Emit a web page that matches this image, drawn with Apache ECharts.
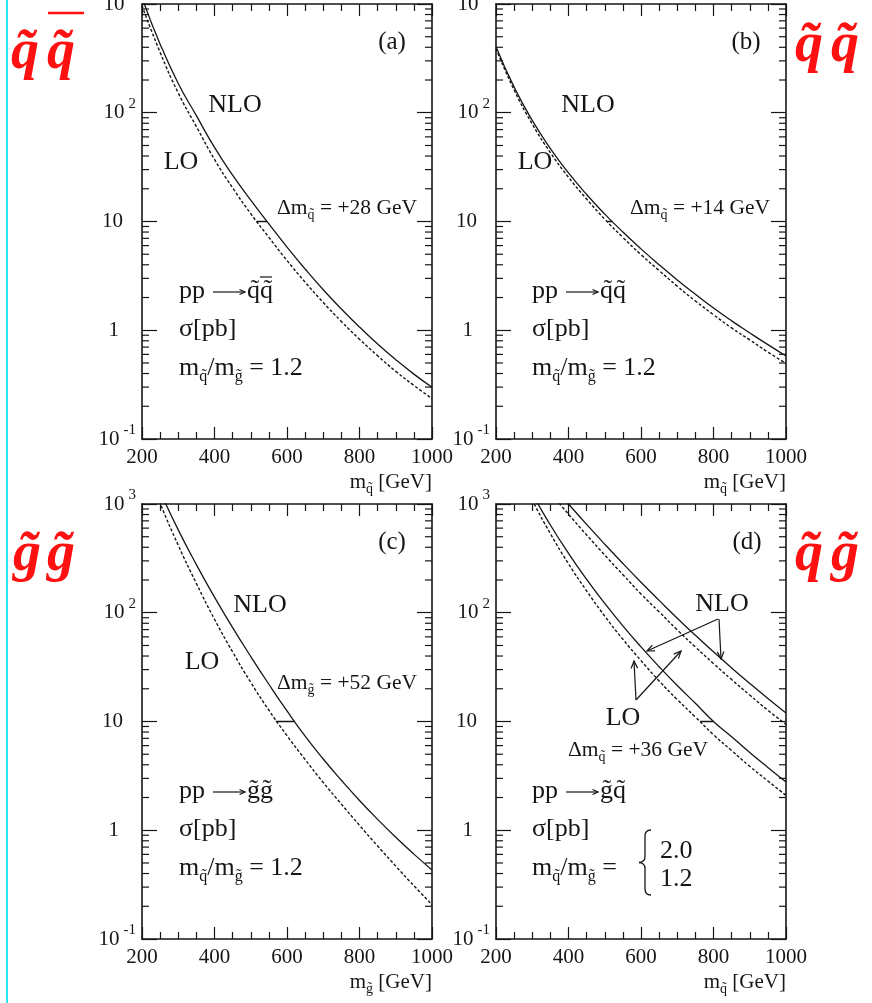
<!DOCTYPE html>
<html>
<head>
<meta charset="utf-8">
<title>Squark and gluino pair production at the LHC: LO vs NLO</title>
<script src="https://cdn.jsdelivr.net/npm/echarts@6/dist/echarts.min.js"></script>
<style>
  html, body { margin: 0; padding: 0; background: #ffffff; }
  #chart { width: 872px; height: 1003px; }
</style>
</head>
<body>
<div id="chart"></div>
<script>
// Sparticle mass grid (GeV)
const massGeV = [200, 250, 300, 350, 400, 450, 500, 550, 600, 650, 700, 750, 800, 850, 900, 950, 1000];

// (a) pp -> squark + antisquark, sigma [pb]
const sqAntisqNLO = [1140, 427, 186, 94, 48, 26.7, 15.7, 9.51, 5.82, 3.66, 2.36, 1.57, 1.07, 0.746, 0.536, 0.395, 0.299];
const sqAntisqLO  = [966, 359, 152, 74.6, 37.2, 20.4, 11.8, 7.15, 4.38, 2.77, 1.80, 1.205, 0.827, 0.583, 0.419, 0.311, 0.235];

// (b) pp -> squark + squark
const sqSqNLO = [405, 172, 85, 46.9, 28.0, 17.7, 11.7, 8.0, 5.6, 4.0, 2.9, 2.14, 1.6, 1.22, 0.945, 0.737, 0.58];
const sqSqLO  = [389, 162, 78.7, 43.0, 25.5, 16.1, 10.5, 7.14, 4.96, 3.54, 2.54, 1.86, 1.39, 1.05, 0.815, 0.63, 0.496];

// (c) pp -> gluino + gluino
const glGlNLO = [3100, 1300, 578, 277, 139, 72.9, 39.6, 22.0, 12.5, 7.33, 4.52, 2.88, 1.88, 1.26, 0.861, 0.603, 0.432];
const glGlLO  = [2570, 1010, 417, 186, 87.1, 43.6, 22.9, 12.7, 7.41, 4.47, 2.75, 1.74, 1.11, 0.716, 0.468, 0.309, 0.207];

// (d) pp -> gluino + squark, mass ratio 2.0 and 1.2
const sqGlNLO20 = [6300, 3900, 2450, 1550, 1000, 649, 427, 284, 191, 130, 89.1, 62.0, 43.7, 31.1, 22.4, 16.3, 12.0];
const sqGlLO20  = [5250, 3250, 2020, 1270, 806, 519, 339, 224, 149, 102, 69.6, 48.4, 34.1, 24.3, 17.5, 12.7, 9.4];
const sqGlNLO12 = [6200, 2640, 1247, 641, 352, 203, 122, 75.8, 48.6, 31.9, 21.4, 14.7, 10.0, 7.24, 5.19, 3.78, 2.78];
const sqGlLO12  = [5640, 2360, 1084, 534, 282, 159, 93.1, 57.0, 36.3, 23.6, 15.9, 11.0, 7.56, 5.40, 3.87, 2.84, 2.09];

// Mass shift LO -> NLO read at sigma = 10 pb: [LO mass, NLO mass]
const shiftLevel = 10;
const shiftA = [517, 545];   // +28 GeV
const shiftB = [507, 521];   // +14 GeV
const shiftC = [569, 621];   // +52 GeV
const shiftD = [764, 800];   // +36 GeV

// Axis ranges
const massRange = [200, 1000];
const massStep = 200;
const sigmaRange = [0.1, 1000];

const FONT = '"Liberation Serif", "Times New Roman", "DejaVu Serif", serif';
const INK = '#161616';
const RED = '#ff1111';

const chart = echarts.init(document.getElementById('chart'), null, { renderer: 'canvas' });

const PW = 290, PH = 435;
const panels = [
  { left: 142, top: 4,   sub: 'q' },
  { left: 496, top: 4,   sub: 'q' },
  { left: 142, top: 504, sub: 'g' },
  { left: 496, top: 504, sub: 'q' }
];

// log-scale minor tick positions (2..9 in every decade)
const minorDecadeTicks = [];
for (let e = -1; e < 3; e++) {
  for (let k = 2; k <= 9; k++) minorDecadeTicks.push(k * Math.pow(10, e));
}

function decadeLabel(v) {
  const e = Math.round(Math.log10(v));
  if (e === 0) return '{b|1}{p1| }';
  if (e === 1) return '{b|10}{p2| }';
  return '{b|10}{sup|' + e + '}';
}

const grids = panels.map(p => ({ left: p.left, top: p.top, width: PW, height: PH, containLabel: false, outerBoundsMode: 'none' }));

const axisLineStyle = { show: true, onZero: false, lineStyle: { color: INK, width: 1.6 } };
const xAxes = [], yAxes = [];
panels.forEach((p, i) => {
  const xCommon = {
    type: 'value', gridIndex: i, min: massRange[0], max: massRange[1], interval: massStep,
    axisLine: axisLineStyle,
    axisTick: { show: true, inside: true, length: 12, lineStyle: { color: INK, width: 1.2 } },
    minorTick: { show: true, splitNumber: 4, length: 7, lineStyle: { color: INK, width: 1.2 } },
    splitLine: { show: false }, minorSplitLine: { show: false }
  };
  xAxes.push(Object.assign({}, xCommon, {
    position: 'bottom',
    axisLabel: { show: true, margin: 8, fontFamily: FONT, fontSize: 21, color: INK, formatter: v => String(v) },
    name: '{m|m}{s|' + p.sub + '\u0303}{m| [GeV]}',
    nameLocation: 'end', nameGap: 0, nameMoveOverlap: false,
    nameTextStyle: {
      fontFamily: FONT, fontSize: 21, color: INK, align: 'right', verticalAlign: 'top',
      padding: [29, 0, 0, 0],
      rich: {
        m: { fontFamily: FONT, fontSize: 21, color: INK },
        s: { fontFamily: FONT, fontSize: 14, color: INK, padding: [14, 0, 0, 0] }
      }
    }
  }));
  xAxes.push(Object.assign({}, xCommon, { position: 'top', axisLabel: { show: false } }));

  const yCommon = {
    type: 'log', logBase: 10, gridIndex: i, min: sigmaRange[0], max: sigmaRange[1], splitNumber: 4,
    axisLine: axisLineStyle,
    axisTick: { show: true, inside: true, length: 15, lineStyle: { color: INK, width: 1.2 } },
    splitLine: { show: false }
  };
  yAxes.push(Object.assign({}, yCommon, {
    position: 'left',
    axisLabel: {
      show: true, margin: 6, fontFamily: FONT, fontSize: 21, color: INK, formatter: decadeLabel,
      rich: {
        b: { fontFamily: FONT, fontSize: 21, color: INK },
        sup: { fontFamily: FONT, fontSize: 15, color: INK, padding: [0, 0, 18, 4] },
        p1: { width: 17 },
        p2: { width: 13 }
      }
    }
  }));
  yAxes.push(Object.assign({}, yCommon, { position: 'right', axisLabel: { show: false } }));
});

function curve(i, values, dashed) {
  return {
    type: 'line', xAxisIndex: 2 * i, yAxisIndex: 2 * i,
    data: massGeV.map((m, k) => [m, values[k]]),
    symbol: 'none', showSymbol: false, smooth: true, clip: true, silent: true,
    lineStyle: { color: INK, width: dashed ? 1.4 : 1.3, type: dashed ? [3, 2] : 'solid' }
  };
}

function shiftMark(i, pair) {
  return {
    type: 'line', xAxisIndex: 2 * i, yAxisIndex: 2 * i,
    data: [[pair[0], shiftLevel], [pair[1], shiftLevel]],
    symbol: 'none', silent: true, lineStyle: { color: INK, width: 1.3 }
  };
}

function minorTicks(i) {
  return {
    type: 'custom', xAxisIndex: 2 * i, yAxisIndex: 2 * i, silent: true, clip: false,
    data: minorDecadeTicks.map(v => [600, v]),
    renderItem: function (params, api) {
      const v = api.value(1);
      const l = api.coord([massRange[0], v]);
      const r = api.coord([massRange[1], v]);
      const st = { stroke: INK, lineWidth: 1.2 };
      return {
        type: 'group', children: [
          { type: 'line', shape: { x1: l[0], y1: l[1], x2: l[0] + 7, y2: l[1] }, style: st },
          { type: 'line', shape: { x1: r[0], y1: r[1], x2: r[0] - 7, y2: r[1] }, style: st }
        ]
      };
    }
  };
}

const series = [
  curve(0, sqAntisqNLO, false), curve(0, sqAntisqLO, true), shiftMark(0, shiftA), minorTicks(0),
  curve(1, sqSqNLO, false), curve(1, sqSqLO, true), shiftMark(1, shiftB), minorTicks(1),
  curve(2, glGlNLO, false), curve(2, glGlLO, true), shiftMark(2, shiftC), minorTicks(2),
  curve(3, sqGlNLO20, false), curve(3, sqGlLO20, true),
  curve(3, sqGlNLO12, false), curve(3, sqGlLO12, true), shiftMark(3, shiftD), minorTicks(3)
];

// ---- annotations ----
const TIL = '\u0303';
const T = 26; // annotation text size
const richSub = {
  t: { fontFamily: FONT, fontSize: T, fill: INK },
  s: { fontFamily: FONT, fontSize: 16, fill: INK, padding: [17, 0, 0, 0] }
};
const richDelta = {
  t: { fontFamily: FONT, fontSize: 21.5, fill: INK },
  s: { fontFamily: FONT, fontSize: 14, fill: INK, padding: [14, 0, 0, 0] }
};

function text(x, y, str, size, align, rich) {
  const a = align || 'left';
  const style = {
    text: str, fill: INK, fontFamily: FONT, fontSize: size,
    align: a, verticalAlign: 'middle', textAlign: a, textVerticalAlign: 'middle'
  };
  if (rich) style.rich = rich;
  return { type: 'text', x: x, y: y, silent: true, style: style };
}

function arrow(x1, y1, x2, y2, head) {
  const ang = Math.atan2(y2 - y1, x2 - x1), h = head || 8, spread = 0.42;
  const a1 = [x2 - h * Math.cos(ang - spread), y2 - h * Math.sin(ang - spread)];
  const a2 = [x2 - h * Math.cos(ang + spread), y2 - h * Math.sin(ang + spread)];
  return [
    { type: 'line', silent: true, shape: { x1: x1, y1: y1, x2: x2, y2: y2 }, style: { stroke: INK, lineWidth: 1.2 } },
    { type: 'polyline', silent: true, shape: { points: [a1, [x2, y2], a2] }, style: { stroke: INK, lineWidth: 1.2, fill: null } }
  ];
}

function seg(x1, y1, x2, y2, color, w) {
  return { type: 'line', silent: true, shape: { x1: x1, y1: y1, x2: x2, y2: y2 }, style: { stroke: color || INK, lineWidth: w || 1.3 } };
}

// "pp -> X Y" reaction line; optional bar over the second particle
function reaction(x, y, particles, barSecond) {
  const els = [text(x, y, 'pp', T, 'left')]
    .concat(arrow(x + 34, y + 1, x + 66, y + 1, 6))
    .concat([text(x + 68, y, particles, T, 'left')]);
  if (barSecond) els.push(seg(x + 81, y - 14, x + 93, y - 14, INK, 1.2));
  return els;
}

function redGlyph(x, y, ch) {
  return {
    type: 'text', x: x, y: y, silent: true,
    style: {
      text: ch, fill: RED, fontFamily: '"Liberation Serif", serif', fontWeight: 'bold', fontStyle: 'italic',
      fontSize: 56, align: 'left', verticalAlign: 'middle', textAlign: 'left', textVerticalAlign: 'middle'
    }
  };
}

function bez(x1, y1, c1x, c1y, c2x, c2y, x2, y2) {
  return { type: 'bezierCurve', silent: true,
    shape: { x1: x1, y1: y1, cpx1: c1x, cpy1: c1y, cpx2: c2x, cpy2: c2y, x2: x2, y2: y2 },
    style: { stroke: INK, lineWidth: 1.3, fill: null } };
}

const graphics = [
  // page frame accent
  seg(7, 0, 7, 1003, '#2ee4f2', 2),

  // panel (a)
  text(392, 42, '(a)', 25, 'center'),
  text(235, 105, 'NLO', T, 'center'),
  text(181, 162, 'LO', T, 'center'),
  text(277, 208, '{t|\u0394m}{s|q' + TIL + '}{t| = +28 GeV}', 21.5, 'left', richDelta),
  text(179, 329, '\u03c3[pb]', T, 'left'),
  text(179, 368, '{t|m}{s|q' + TIL + '}{t|/m}{s|g' + TIL + '}{t| = 1.2}', T, 'left', richSub),

  // panel (b)
  text(746, 42, '(b)', 25, 'center'),
  text(588, 105, 'NLO', T, 'center'),
  text(535, 162, 'LO', T, 'center'),
  text(630, 208, '{t|\u0394m}{s|q' + TIL + '}{t| = +14 GeV}', 21.5, 'left', richDelta),
  text(532, 329, '\u03c3[pb]', T, 'left'),
  text(532, 368, '{t|m}{s|q' + TIL + '}{t|/m}{s|g' + TIL + '}{t| = 1.2}', T, 'left', richSub),

  // panel (c)
  text(392, 542, '(c)', 25, 'center'),
  text(260, 605, 'NLO', T, 'center'),
  text(202, 662, 'LO', T, 'center'),
  text(277, 683, '{t|\u0394m}{s|g' + TIL + '}{t| = +52 GeV}', 21.5, 'left', richDelta),
  text(179, 829, '\u03c3[pb]', T, 'left'),
  text(179, 868, '{t|m}{s|q' + TIL + '}{t|/m}{s|g' + TIL + '}{t| = 1.2}', T, 'left', richSub),

  // panel (d)
  text(747, 542, '(d)', 25, 'center'),
  text(722, 604, 'NLO', T, 'center'),
  text(623, 718, 'LO', T, 'center'),
  text(568, 750, '{t|\u0394m}{s|q' + TIL + '}{t| = +36 GeV}', 21.5, 'left', richDelta),
  text(532, 829, '\u03c3[pb]', T, 'left'),
  text(532, 868, '{t|m}{s|q' + TIL + '}{t|/m}{s|g' + TIL + '}{t| =}', T, 'left', richSub),
  text(660, 851, '2.0', T, 'left'),
  text(660, 879, '1.2', T, 'left'),
  // curly brace
  bez(651, 830, 647, 830, 645, 832, 645, 836),
  seg(645, 836, 645, 857),
  bez(645, 857, 645, 860.5, 642, 862.5, 639, 862.5),
  bez(639, 862.5, 642, 862.5, 645, 864.5, 645, 868),
  seg(645, 868, 645, 889),
  bez(645, 889, 645, 893, 647, 895, 651, 895),

  // process labels in red
  redGlyph(11, 54, 'q' + TIL), redGlyph(47, 54, 'q' + TIL), seg(48, 13, 84, 13, RED, 2.5),
  redGlyph(795, 47, 'q' + TIL), redGlyph(831, 47, 'q' + TIL),
  redGlyph(13, 556, 'g' + TIL), redGlyph(47, 556, 'g' + TIL),
  redGlyph(795, 556, 'q' + TIL), redGlyph(831, 556, 'g' + TIL)
]
  .concat(reaction(179, 291, 'q' + TIL + 'q' + TIL, true))
  .concat(reaction(532, 291, 'q' + TIL + 'q' + TIL, false))
  .concat(reaction(179, 791, 'g' + TIL + 'g' + TIL, false))
  .concat(reaction(532, 791, 'g' + TIL + 'q' + TIL, false))
  .concat(arrow(718, 619, 647, 651))
  .concat(arrow(719, 619, 721, 659))
  .concat(arrow(636, 700, 634, 661))
  .concat(arrow(636, 700, 681, 651));

chart.setOption({
  animation: false,
  backgroundColor: '#ffffff',
  grid: grids,
  xAxis: xAxes,
  yAxis: yAxes,
  series: series,
  graphic: { elements: graphics }
});
</script>
</body>
</html>
